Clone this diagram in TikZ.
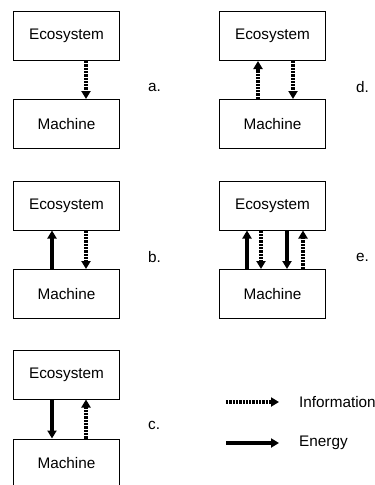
\documentclass[tikz,border=0pt]{standalone}
\usepackage{fontspec}
\setmainfont{Liberation Sans}
\usetikzlibrary{arrows.meta}
\begin{document}
\begin{tikzpicture}[x=1pt,y=-1pt,
  box/.style={draw,line width=1pt,minimum width=105.5pt,minimum height=49pt,inner sep=0pt,font=\fontsize{15.3}{18}\selectfont},
  lbl/.style={anchor=west,inner sep=0pt,font=\fontsize{15.3}{18}\selectfont},
  energy/.style={line width=3.3pt,-{Triangle[length=8pt,width=9pt]}},
  info/.style={line width=3.3pt,dash pattern=on 2.3pt off 1pt,-{Triangle[length=8pt,width=9pt]}}]
\useasboundingbox (0,0) rectangle (375,485);
% a
\node[box] (eA) at (66.5,36) {Ecosystem};
\node[box] (mA) at (66.5,124) {Machine};
\node[lbl] (la) at (148,87) {a.};
\draw[info] ([xshift=19.5pt]eA.south) -- ([xshift=19.5pt]mA.north);
% d
\node[box] (eD) at (272.5,36) {Ecosystem};
\node[box] (mD) at (272.5,124) {Machine};
\node[lbl] (ld) at (356,87) {d.};
\draw[info] ([xshift=-14.5pt]mD.north) -- ([xshift=-14.5pt]eD.south);
\draw[info] ([xshift=20.5pt]eD.south) -- ([xshift=20.5pt]mD.north);
% b
\node[box] (eB) at (66.5,205.5) {Ecosystem};
\node[box] (mB) at (66.5,294) {Machine};
\node[lbl] (lb) at (148,257) {b.};
\draw[energy] ([xshift=-14.5pt]mB.north) -- ([xshift=-14.5pt]eB.south);
\draw[info] ([xshift=19.5pt]eB.south) -- ([xshift=19.5pt]mB.north);
% e
\node[box] (eE) at (272.5,205.5) {Ecosystem};
\node[box] (mE) at (272.5,294) {Machine};
\node[lbl] (le) at (356,257) {e.};
\draw[energy] ([xshift=-25.5pt]mE.north) -- ([xshift=-25.5pt]eE.south);
\draw[info] ([xshift=-11.5pt]eE.south) -- ([xshift=-11.5pt]mE.north);
\draw[energy] ([xshift=14.5pt]eE.south) -- ([xshift=14.5pt]mE.north);
\draw[info] ([xshift=30.5pt]mE.north) -- ([xshift=30.5pt]eE.south);
% c
\node[box] (eC) at (66.5,374.5) {Ecosystem};
\node[box] (mC) at (66.5,463.5) {Machine};
\node[lbl] (lc) at (148,425) {c.};
\draw[energy] ([xshift=-14.5pt]eC.south) -- ([xshift=-14.5pt]mC.north);
\draw[info] ([xshift=19.5pt]mC.north) -- ([xshift=19.5pt]eC.south);
% legend
\node[lbl] (tInfo) at (299,402) {Information};
\node[lbl] (tEn) at (299,443) {Energy};
\coordinate (iS) at (226,402);
\coordinate (iE) at (279,402);
\coordinate (eS) at (226,443);
\coordinate (eE2) at (279,443);
\draw[info] (iS) -- (iE);
\draw[energy] (eS) -- (eE2);
\end{tikzpicture}
\end{document}
